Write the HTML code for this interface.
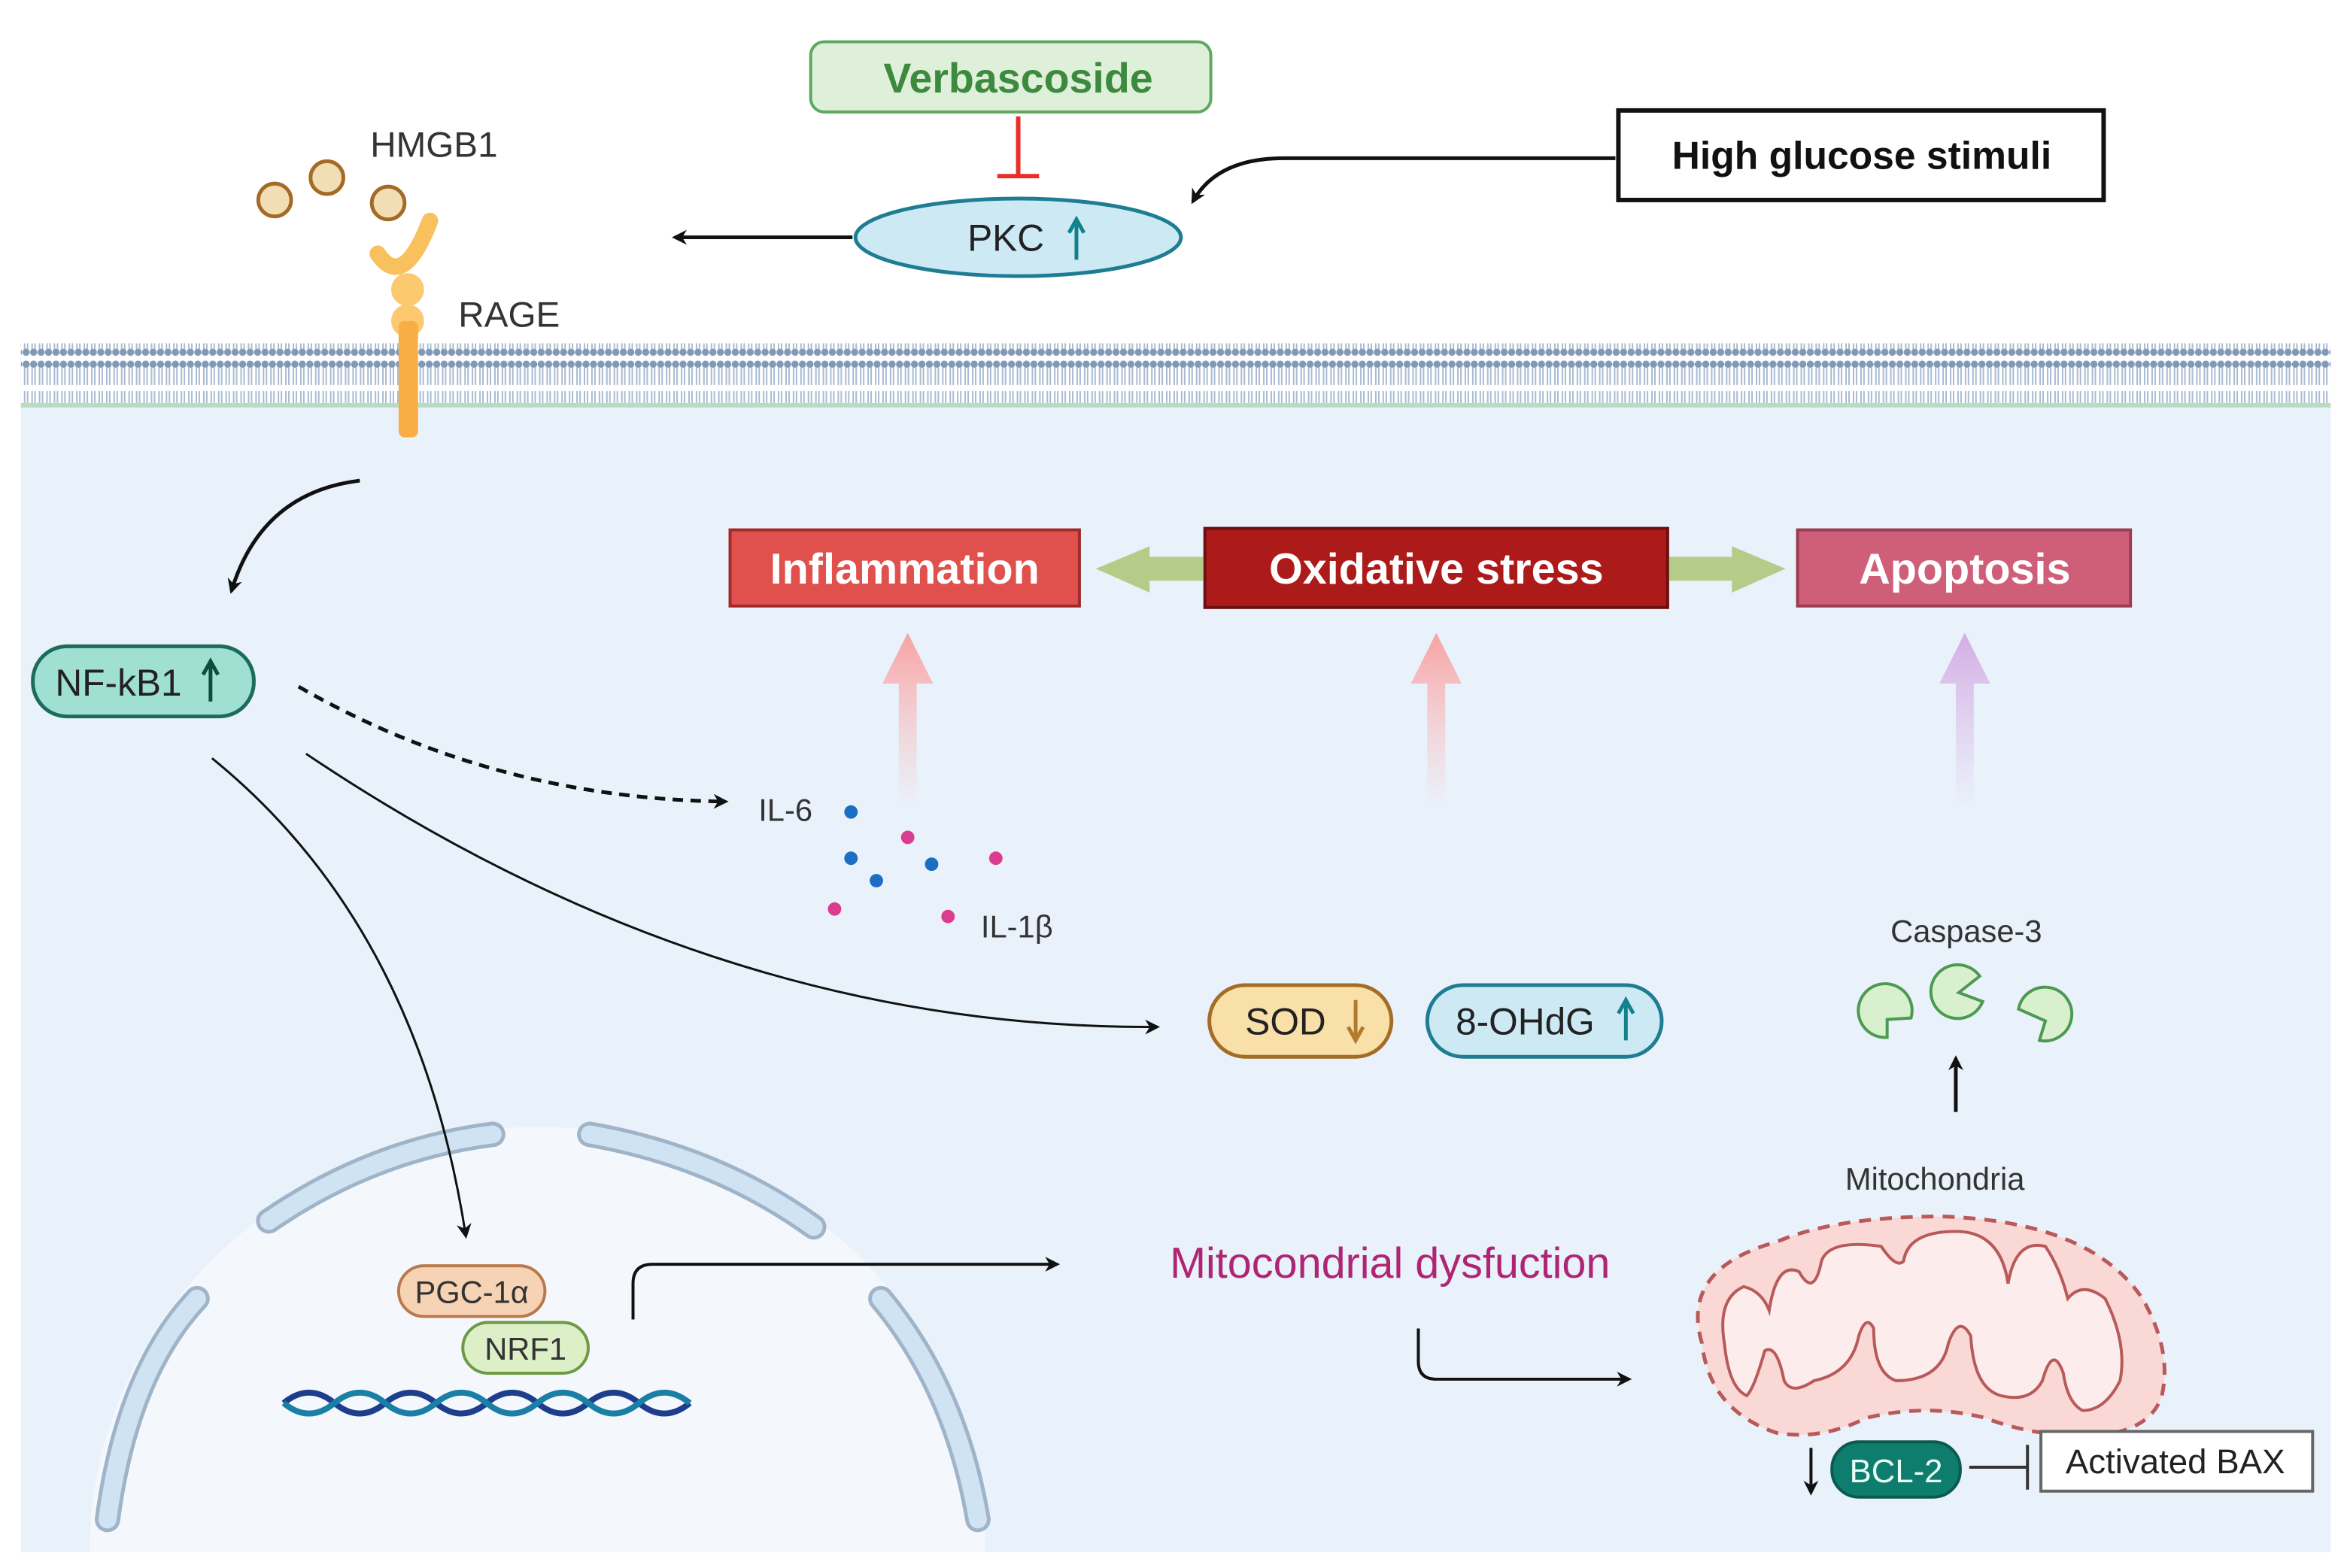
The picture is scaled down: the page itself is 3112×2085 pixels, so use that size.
<!DOCTYPE html>
<html><head><meta charset="utf-8"><style>
html,body{margin:0;padding:0;background:#fff;width:3112px;height:2085px;overflow:hidden;}
svg{display:block;}
text{font-family:"Liberation Sans",sans-serif;}
</style></head><body>
<svg width="3112" height="2085" viewBox="0 0 1568 1050.5" preserveAspectRatio="none" xmlns="http://www.w3.org/2000/svg">
<defs>
<marker id="ah" markerWidth="10" markerHeight="10" refX="8" refY="5" orient="auto" markerUnits="userSpaceOnUse"><path d="M0,0 L10,5 L0,10 L3,5 z" fill="#111"/></marker>
<linearGradient id="gr1" x1="0" y1="1" x2="0" y2="0"><stop offset="0" stop-color="#fbb" stop-opacity="0"/><stop offset="1" stop-color="#f7a3a3"/></linearGradient>
<linearGradient id="gr2" x1="0" y1="1" x2="0" y2="0"><stop offset="0" stop-color="#dcb8e8" stop-opacity="0"/><stop offset="1" stop-color="#d3aee3"/></linearGradient>
<pattern id="lip" width="5" height="40" patternUnits="userSpaceOnUse"><circle cx="2.5" cy="4" r="2.4" fill="#8299b6"/><line x1="1.5" y1="6" x2="1.5" y2="18" stroke="#a9bbd3" stroke-width="1"/><line x1="3.5" y1="6" x2="3.5" y2="18" stroke="#a9bbd3" stroke-width="1"/><line x1="1.5" y1="22" x2="1.5" y2="34" stroke="#a9bbd3" stroke-width="1"/><line x1="3.5" y1="22" x2="3.5" y2="34" stroke="#a9bbd3" stroke-width="1"/><circle cx="2.5" cy="36" r="2.4" fill="#8299b6"/></pattern>
</defs>
<rect x="0" y="0" width="1568" height="1050" fill="#fff"/>
<rect x="14" y="270" width="1547" height="770" fill="#e9f1fa"/>
<rect x="14" y="230" width="1547" height="40" fill="url(#lip)"/>
<rect x="14" y="270" width="1547" height="3" fill="#b8dcc0"/>
<path d="M60,1040 A300,285 0 0 1 660,1040 Z" fill="#f4f8fd"/>
<g fill="none" stroke-linecap="round">
<g stroke="#9fb4c8" stroke-width="17">
<path d="M72,1018 Q85,920 132,870"/><path d="M180,818 Q250,770 330,760"/><path d="M395,760 Q480,775 545,822"/><path d="M590,870 Q640,930 655,1018"/>
</g>
<g stroke="#cfe3f3" stroke-width="12">
<path d="M72,1018 Q85,920 132,870"/><path d="M180,818 Q250,770 330,760"/><path d="M395,760 Q480,775 545,822"/><path d="M590,870 Q640,930 655,1018"/>
</g>
</g>
<g fill="none" stroke-width="4">
<path d="M190,940 q17,-14 34,0 t34,0 t34,0 t34,0 t34,0 t34,0 t34,0 t34,0" stroke="#1e3e8c"/>
<path d="M190,940 q17,14 34,0 t34,0 t34,0 t34,0 t34,0 t34,0 t34,0 t34,0" stroke="#1a7fa5"/>
</g>
<rect x="267" y="848" width="98" height="34" rx="17" fill="#f7d3b5" stroke="#b9794a" stroke-width="2"/>
<text x="316" y="873" font-size="21" text-anchor="middle" fill="#333">PGC-1α</text>
<rect x="310" y="886" width="84" height="34" rx="17" fill="#dcefc6" stroke="#6e9a45" stroke-width="2"/>
<text x="352" y="911" font-size="21" text-anchor="middle" fill="#333">NRF1</text>
<g fill="#f2deb5" stroke="#a56a25" stroke-width="2.5">
<circle cx="184" cy="134" r="11"/><circle cx="219" cy="119" r="11"/><circle cx="260" cy="136" r="11"/>
</g>
<path d="M253,170 Q270,195 288,148" fill="none" stroke="#f9c05e" stroke-width="11" stroke-linecap="round"/>
<circle cx="273" cy="194" r="11" fill="#fcc870"/><circle cx="273" cy="215" r="11" fill="#fcc870"/>
<rect x="267" y="215" width="13" height="78" rx="4" fill="#f9ae45"/>
<text x="248" y="105" font-size="24" fill="#333">HMGB1</text>
<text x="307" y="219" font-size="24" fill="#333">RAGE</text>
<rect x="543" y="28" width="268" height="47" rx="9" fill="#dff0da" stroke="#5ea860" stroke-width="2"/>
<text x="682" y="62" font-size="28" font-weight="bold" text-anchor="middle" fill="#3d8a3e">Verbascoside</text>
<line x1="682" y1="78" x2="682" y2="118" stroke="#e8302a" stroke-width="3"/>
<line x1="668" y1="118" x2="696" y2="118" stroke="#e8302a" stroke-width="3"/>
<ellipse cx="682" cy="159" rx="109" ry="26" fill="#cdeaf4" stroke="#1e7d92" stroke-width="2.5"/>
<text x="648" y="168" font-size="25" fill="#222">PKC</text>
<path d="M721,174 V150 M716,156 L721,147 L726,156" stroke="#11818c" stroke-width="2.5" fill="none"/>
<line x1="571" y1="159" x2="452" y2="159" stroke="#111" stroke-width="2.5" marker-end="url(#ah)"/>
<rect x="1084" y="74" width="325" height="60" fill="#fff" stroke="#111" stroke-width="3"/>
<text x="1247" y="113" font-size="26" font-weight="bold" text-anchor="middle" fill="#111">High glucose stimuli</text>
<path d="M1082,106 H860 Q815,106 799,135" fill="none" stroke="#111" stroke-width="2.5" marker-end="url(#ah)"/>
<rect x="489" y="355" width="234" height="51" fill="#e0504c" stroke="#a12a28" stroke-width="2"/>
<text x="606" y="391" font-size="29" font-weight="bold" text-anchor="middle" fill="#fff">Inflammation</text>
<rect x="807" y="354" width="310" height="53" fill="#ad1a1a" stroke="#6d0f0f" stroke-width="2"/>
<text x="962" y="391" font-size="29" font-weight="bold" text-anchor="middle" fill="#fff">Oxidative stress</text>
<rect x="1204" y="355" width="223" height="51" fill="#cf5f79" stroke="#9a3d52" stroke-width="2"/>
<text x="1316" y="391" font-size="29" font-weight="bold" text-anchor="middle" fill="#fff">Apoptosis</text>
<path d="M806,373 H770 V366 L734,381 L770,397 V389 H806 Z" fill="#b5cc89"/>
<path d="M1118,373 H1160 V366 L1196,381 L1160,397 V389 H1118 Z" fill="#b5cc89"/>
<path d="M602,540 V458 H591 L608,424 L625,458 H614 V540 Z" fill="url(#gr1)"/>
<path d="M956,540 V458 H945 L962,424 L979,458 H968 V540 Z" fill="url(#gr1)"/>
<path d="M1310,540 V458 H1299 L1316,424 L1333,458 H1322 V540 Z" fill="url(#gr2)"/>
<path d="M241,322 Q175,330 155,396" fill="none" stroke="#111" stroke-width="2.5" marker-end="url(#ah)"/>
<rect x="22" y="433" width="148" height="47" rx="23" fill="#9fe0d2" stroke="#1c6b5b" stroke-width="2.5"/>
<text x="37" y="466" font-size="25" fill="#222">NF-kB1</text>
<path d="M141,470 V446 M136,452 L141,443 L146,452" stroke="#0d4d3d" stroke-width="2.5" fill="none"/>
<path d="M200,460 Q330,535 486,537" fill="none" stroke="#111" stroke-width="2.5" stroke-dasharray="7,5" marker-end="url(#ah)"/>
<path d="M205,505 Q480,690 775,688" fill="none" stroke="#111" stroke-width="1.5" marker-end="url(#ah)"/>
<path d="M142,508 Q280,620 312,828" fill="none" stroke="#111" stroke-width="1.5" marker-end="url(#ah)"/>
<text x="508" y="550" font-size="21" fill="#333">IL-6</text>
<text x="657" y="628" font-size="21" fill="#333">IL-1β</text>
<g fill="#1c6ec4"><circle cx="570" cy="544" r="4.5"/><circle cx="570" cy="575" r="4.5"/><circle cx="587" cy="590" r="4.5"/><circle cx="624" cy="579" r="4.5"/></g>
<g fill="#dc3c8f"><circle cx="608" cy="561" r="4.5"/><circle cx="667" cy="575" r="4.5"/><circle cx="559" cy="609" r="4.5"/><circle cx="635" cy="614" r="4.5"/></g>
<rect x="810" y="660" width="122" height="48" rx="24" fill="#f9dfa8" stroke="#a36d26" stroke-width="2.5"/>
<text x="834" y="693" font-size="25" fill="#222">SOD</text>
<path d="M908,670 V694 M903,688 L908,697 L913,688" stroke="#b27a2d" stroke-width="2.5" fill="none"/>
<rect x="956" y="660" width="157" height="48" rx="24" fill="#cdeaf4" stroke="#1e7d92" stroke-width="2.5"/>
<text x="975" y="693" font-size="25" fill="#222">8-OHdG</text>
<path d="M1089,697 V673 M1084,679 L1089,670 L1094,679" stroke="#11818c" stroke-width="2.5" fill="none"/>
<path d="M424,884 V860 Q424,847 437,847 H708" fill="none" stroke="#111" stroke-width="2" marker-end="url(#ah)"/>
<text x="931" y="856" font-size="29" text-anchor="middle" fill="#b02573">Mitocondrial dysfuction</text>
<path d="M950,890 V912 Q950,924 962,924 H1091" fill="none" stroke="#111" stroke-width="2" marker-end="url(#ah)"/>
<text x="1317" y="631" font-size="21" text-anchor="middle" fill="#333">Caspase-3</text>
<g fill="#d9f0cf" stroke="#4c9a4f" stroke-width="2">
<path d="M1264,695 A18,18 0 1 1 1280,682 L1264,683 Z"/>
<path d="M1328,671 A18,18 0 1 1 1326,654 L1312,665 Z"/>
<path d="M1352,676 A18,18 0 1 1 1366,697 L1370,684 Z"/>
</g>
<line x1="1310" y1="745" x2="1310" y2="709" stroke="#111" stroke-width="2.5" marker-end="url(#ah)"/>
<text x="1296" y="797" font-size="21" text-anchor="middle" fill="#333">Mitochondria</text>
<path d="M1140,900 Q1125,850 1190,832 Q1230,815 1300,815 Q1400,818 1435,870 Q1455,905 1448,935 Q1440,960 1400,962 Q1360,962 1330,950 Q1290,940 1250,950 Q1220,965 1190,960 Q1145,945 1140,900 Z" fill="#f9d8d6" stroke="#b85a5a" stroke-width="2.5" stroke-dasharray="8,6"/>
<path d="M1155,900 Q1150,870 1168,862 Q1180,865 1185,878 Q1190,845 1205,852 Q1215,870 1220,845 Q1225,830 1260,835 Q1270,850 1275,845 Q1278,825 1310,825 Q1340,825 1345,860 Q1350,830 1370,835 Q1380,850 1385,870 Q1395,858 1410,870 Q1425,900 1420,925 Q1410,945 1395,945 Q1385,940 1382,920 Q1375,900 1368,925 Q1360,940 1340,935 Q1322,930 1320,895 Q1312,880 1305,900 Q1300,925 1270,925 Q1255,920 1255,890 Q1250,880 1245,895 Q1240,920 1215,925 Q1200,935 1195,925 Q1190,900 1182,905 Q1175,930 1170,935 Q1158,930 1155,900 Z" fill="#fcecec" stroke="#b85a5a" stroke-width="2"/>
<line x1="1213" y1="970" x2="1213" y2="1000" stroke="#111" stroke-width="2" marker-end="url(#ah)"/>
<rect x="1227" y="966" width="86" height="37" rx="18" fill="#0f7d6d" stroke="#0a5a4d" stroke-width="2"/>
<text x="1270" y="993" font-size="22" text-anchor="middle" fill="#e8fff8">BCL-2</text>
<line x1="1319" y1="983" x2="1358" y2="983" stroke="#333" stroke-width="2"/>
<line x1="1358" y1="968" x2="1358" y2="998" stroke="#333" stroke-width="2"/>
<rect x="1367" y="959" width="182" height="40" fill="#fff" stroke="#666" stroke-width="2"/>
<text x="1457" y="987" font-size="23" text-anchor="middle" fill="#222">Activated BAX</text>
</svg>
</body></html>
